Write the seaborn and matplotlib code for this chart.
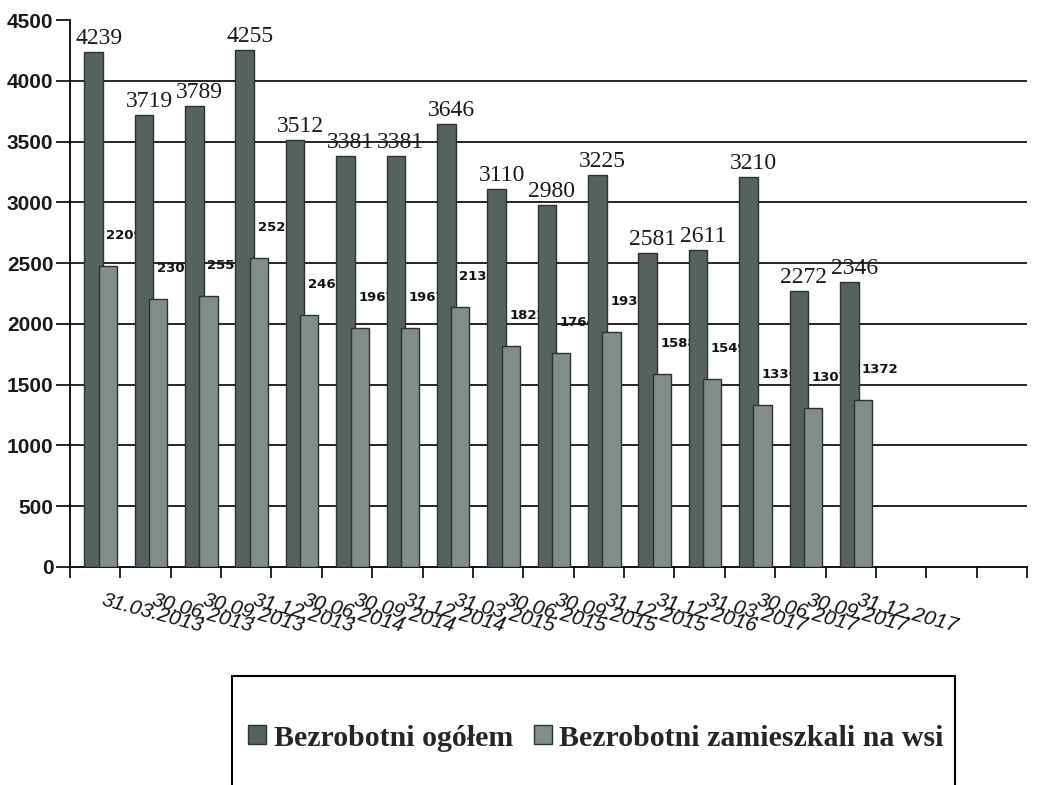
import matplotlib
matplotlib.use("Agg")
import matplotlib.pyplot as plt
import matplotlib.transforms as mtransforms
from matplotlib.patches import Patch, Rectangle
import numpy as np
import pandas as pd
import seaborn as sns

# ---------------- data ----------------
dates = ["31.03.2013", "30.06.2013", "30.09.2013", "31.12.2013", "30.06.2014",
         "30.09.2014", "31.12.2014", "31.03.2015", "30.06.2015", "30.09.2015",
         "31.12.2015", "31.12.2016", "31.03.2017", "30.06.2017", "30.09.2017",
         "31.12.2017"]
empty_slots = ["", " ", "  "]
total = [4239, 3719, 3789, 4255, 3512, 3381, 3381, 3646, 3110, 2980,
         3225, 2581, 2611, 3210, 2272, 2346]
rural = [2475, 2204, 2229, 2541, 2072, 1967, 1967, 2136, 1822, 1764,
         1932, 1588, 1549, 1336, 1307, 1372]
rural_labels = ["2209", "2303", "2553", "2525", "2460", "1967", "1967", "2136",
                "1822", "1764", "1932", "1588", "1549", "1336", "1307", "1372"]
series_names = ["Bezrobotni ogółem", "Bezrobotni zamieszkali na wsi"]
y_ticks = [0, 500, 1000, 1500, 2000, 2500, 3000, 3500, 4000, 4500]

# ---------------- style ----------------
DARK = "#55625d"
LIGHT = "#808d88"
EDGE = "#2c3230"

sns.set_theme(style="white")
plt.rcParams["font.family"] = ["Liberation Sans", "DejaVu Sans"]

W, H = 1043, 785
fig = plt.figure(figsize=(W / 100, H / 100), dpi=100)
ax = fig.add_axes([70 / W, 1 - 567 / H, (1027 - 70) / W, (567 - 20) / H])

slots = dates + empty_slots
df = pd.DataFrame({"date": dates, "total": total, "rural": rural})

sns.barplot(data=df, x="date", y="total", order=slots, color=DARK,
            saturation=1, width=0.37, edgecolor=EDGE, linewidth=1.0,
            errorbar=None, ax=ax, zorder=3)
sns.barplot(data=df, x="date", y="rural", order=slots, color=LIGHT,
            saturation=1, width=0.36, edgecolor=EDGE, linewidth=1.0,
            errorbar=None, ax=ax, zorder=4)

dark_bars = list(ax.containers[0])
light_bars = list(ax.containers[1])

serif = ["Liberation Serif", "DejaVu Serif"]

# shift bars within slot (overlapping pair like the original) and label them
for p in dark_bars:
    idx = int(round(p.get_x() + p.get_width() / 2))
    p.set_x(p.get_x() - 0.03)
    if idx < len(total):
        ax.annotate(str(total[idx]), (p.get_x() + p.get_width() / 2, total[idx]),
                    xytext=(5, 3), textcoords="offset pixels", ha="center",
                    va="bottom", fontsize=17, family=serif, color="#1a1a1a",
                    zorder=6)

for p in light_bars:
    idx = int(round(p.get_x() + p.get_width() / 2))
    p.set_x(p.get_x() + 0.25)
    if idx < len(rural):
        ax.annotate(rural_labels[idx], (p.get_x() + p.get_width() / 2, rural[idx]),
                    xytext=(17, 24), textcoords="offset pixels", ha="center",
                    va="bottom", fontsize=9.5, fontweight="bold",
                    family=["DejaVu Sans"], color="#111111", zorder=2.5)

# ---------------- axes ----------------
ax.set_xlabel("")
ax.set_ylabel("")
ax.set_xlim(-0.5, len(slots) - 0.5)
ax.set_ylim(0, 4500)
ax.set_yticks(y_ticks)
ax.set_yticklabels([str(v) for v in y_ticks], fontsize=15, fontweight="bold",
                   color="#1a1a1a")
ax.tick_params(axis="y", length=10, width=1.2, color="black", pad=2, left=True)

ax.set_xticks(range(len(slots)))
ax.set_xticklabels(slots, fontsize=15, style="italic", color="#111111")
ax.set_xticks(np.arange(-0.5, len(slots), 1), minor=True)
ax.tick_params(axis="x", which="major", length=0, pad=17)
ax.tick_params(axis="x", which="minor", length=8, width=1.2, color="black",
               bottom=True)
offset = mtransforms.ScaledTranslation(9 / 100, 0, fig.dpi_scale_trans)
for lbl in ax.get_xticklabels():
    lbl.set_rotation(-15)
    lbl.set_ha("left")
    lbl.set_va("top")
    lbl.set_rotation_mode("anchor")
    lbl.set_transform(lbl.get_transform() + offset)

ax.yaxis.grid(True, color="black", linewidth=1.2)
ax.set_axisbelow(True)
for tick in ax.yaxis.get_major_ticks():
    if tick.get_loc() in (0, 4500):
        tick.gridline.set_visible(False)

for side in ("top", "right"):
    ax.spines[side].set_visible(False)
for side in ("left", "bottom"):
    ax.spines[side].set_color("black")
    ax.spines[side].set_linewidth(1.3)

# ---------------- legend ----------------
fig.add_artist(Rectangle((232 / W, -0.05), (955 - 232) / W, (1 - 676 / H) + 0.05,
                         transform=fig.transFigure, fill=False,
                         edgecolor="black", linewidth=1.5))
handles = [Patch(facecolor=DARK, edgecolor=EDGE), Patch(facecolor=LIGHT, edgecolor=EDGE)]
fig.legend(handles, series_names, loc="center",
           bbox_to_anchor=(596 / W, 1 - 738 / H), ncol=2, frameon=False,
           handlelength=0.6, handleheight=0.6, handletextpad=0.25,
           columnspacing=0.7,
           prop={"family": serif, "weight": "bold", "size": 21.5})

fig.savefig("out.png", dpi=100, facecolor="white")
